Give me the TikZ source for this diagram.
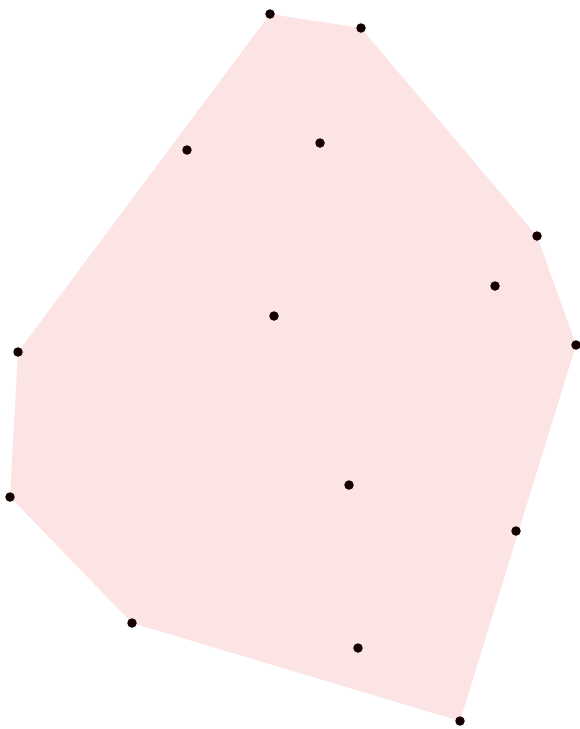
\documentclass[tikz,border=0pt]{standalone}
\usepackage{tikz}

\definecolor{hullpink}{RGB}{253,228,228}
\definecolor{ptdark}{RGB}{20,0,0}

\begin{document}
\begin{tikzpicture}[
  x=1pt, y=-1pt,
  hull/.style={fill=hullpink, draw=none},
  pt/.style={circle, fill=ptdark, inner sep=0pt, minimum size=9.5pt},
]
\useasboundingbox (0,0) rectangle (579,729);

%% hull corners
\coordinate (h1) at (270,14);
\coordinate (h2) at (361,28);
\coordinate (h3) at (537,236);
\coordinate (h4) at (576,345);
\coordinate (h5) at (460,721);
\coordinate (h6) at (132,623);
\coordinate (h7) at (10,497);
\coordinate (h8) at (18,352);

%% inner points
\coordinate (p1) at (187,150);
\coordinate (p2) at (320,143);
\coordinate (p3) at (495,286);
\coordinate (p4) at (274,316);
\coordinate (p5) at (349,485);
\coordinate (p6) at (516,531);
\coordinate (p7) at (358,648);

%% filled hull
\fill[hull] (h1) -- (h2) -- (h3) -- (h4) -- (h5) -- (h6) -- (h7) -- (h8) -- cycle;

%% dots
\foreach \c in {h1,h2,h3,h4,h5,h6,h7,h8,p1,p2,p3,p4,p5,p6,p7}
  \node[pt] (n\c) at (\c) {};

\end{tikzpicture}
\end{document}
